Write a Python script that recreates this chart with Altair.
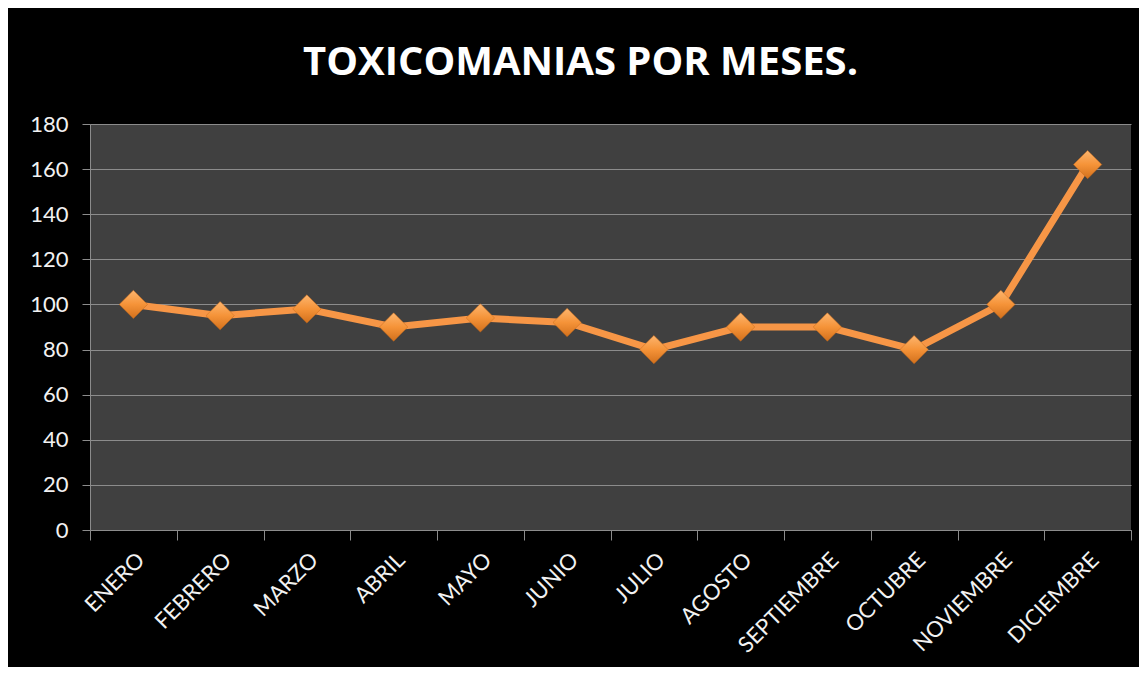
import altair as alt
import pandas as pd

meses = ["ENERO", "FEBRERO", "MARZO", "ABRIL", "MAYO", "JUNIO", "JULIO",
         "AGOSTO", "SEPTIEMBRE", "OCTUBRE", "NOVIEMBRE", "DICIEMBRE"]
casos = [100, 95, 98, 90, 94, 92, 80, 90, 90, 80, 100, 162]
y_ticks = [0, 20, 40, 60, 80, 100, 120, 140, 160, 180]

df = pd.DataFrame({"mes": meses, "casos": casos})

FONT = "Lato"

x = alt.X("mes:N", sort=meses, title=None,
          scale=alt.Scale(paddingInner=0, paddingOuter=0),
          axis=alt.Axis(labelAngle=-45, labelColor="#f2f2f2", labelFontSize=22,
                        labelFont=FONT, tickBand="extent", tickSize=10,
                        tickColor="#8c8c8c", domainColor="#8c8c8c", labelPadding=9,
                        grid=False, labelAlign="right", labelBaseline="top"))
y = alt.Y("casos:Q", title=None,
          scale=alt.Scale(domain=[0, 180], nice=False),
          axis=alt.Axis(values=y_ticks, labelColor="#f2f2f2", labelFontSize=22,
                        labelFont=FONT, tickSize=8, tickColor="#8c8c8c",
                        domainColor="#8c8c8c", gridColor="#8c8c8c", gridWidth=1,
                        labelPadding=14))

line = alt.Chart(df).mark_line(color="#F79646", strokeWidth=7).encode(x=x, y=y)

diamonds = alt.Chart(df).mark_point(
    shape="diamond", size=800, filled=True, opacity=1,
    fill=alt.Gradient(gradient="linear", x1=0, y1=0, x2=0, y2=1,
                      stops=[alt.GradientStop(color="#FDB56E", offset=0),
                             alt.GradientStop(color="#F59338", offset=0.5),
                             alt.GradientStop(color="#D2701C", offset=1)]),
    stroke="#C86A1A", strokeWidth=0.5
).encode(x=x, y=y)

chart = (line + diamonds).properties(
    width=1041, height=406,
    background="#000000",
    padding={"left": 82, "top": 116, "right": 8, "bottom": 137},
    autosize=alt.AutoSizeParams(type="none"),
    title=alt.TitleParams("TOXICOMANIAS POR MESES.", color="#ffffff", fontSize=40,
                          font="Open Sans", fontWeight="bold", anchor="middle",
                          offset=30, dx=-30),
).configure_view(fill="#404040", stroke=None)

chart.save("out.html", embed_options={"renderer": "svg", "actions": False})
